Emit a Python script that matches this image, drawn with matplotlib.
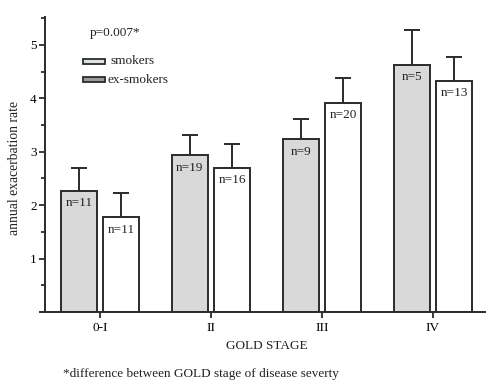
import matplotlib
matplotlib.use("Agg")
import matplotlib.pyplot as plt
from matplotlib.patches import Rectangle
from matplotlib.ticker import MultipleLocator
import numpy as np

plt.rcParams['font.family'] = ['Liberation Serif', 'DejaVu Serif']

stages = ["0-I", "II", "III", "IV"]
smokers = [2.27, 2.93, 3.23, 4.63]
smokers_err = [0.42, 0.39, 0.38, 0.64]
ex_smokers = [1.77, 2.70, 3.92, 4.33]
ex_smokers_err = [0.46, 0.45, 0.45, 0.44]
n_smokers = [11, 19, 9, 5]
n_ex_smokers = [11, 16, 20, 13]

W, H = 486, 380
fig = plt.figure(figsize=(W / 100, H / 100), dpi=100)
ax = fig.add_axes([40 / W, (H - 312) / H, 446 / W, 295 / H])

x = np.arange(len(stages))
width = 0.33
off = 0.19
edge = "#2b2b2b"
txt = "#222222"

ax.bar(x - off, smokers, width, color="#d9d9d9", edgecolor=edge, linewidth=1.4, zorder=2)
ax.bar(x + off, ex_smokers, width, color="white", edgecolor=edge, linewidth=1.4, zorder=2)
ax.errorbar(x - off, smokers, yerr=[np.zeros(4), smokers_err], fmt="none",
            ecolor=edge, elinewidth=1.4, capsize=6, capthick=1.4, zorder=1)
ax.errorbar(x + off, ex_smokers, yerr=[np.zeros(4), ex_smokers_err], fmt="none",
            ecolor=edge, elinewidth=1.4, capsize=6, capthick=1.4, zorder=1)

for xi, v, n in zip(x - off, smokers, n_smokers):
    ax.annotate(f"n={n}", (xi, v), xytext=(0, -9), textcoords="offset points",
                ha="center", va="center", fontsize=9.5, color=txt, zorder=3)
for xi, v, n in zip(x + off, ex_smokers, n_ex_smokers):
    ax.annotate(f"n={n}", (xi, v), xytext=(0, -9), textcoords="offset points",
                ha="center", va="center", fontsize=9.5, color=txt, zorder=3)

ax.set_xlim(-60 / 111, 3 + 53 / 111)
ax.set_ylim(0, 5.52)
ax.set_xticks(x)
ax.set_xticklabels(stages, fontsize=9.5)
ax.yaxis.set_major_locator(MultipleLocator(1))
ax.yaxis.set_minor_locator(MultipleLocator(0.5))
ax.set_yticks([1, 2, 3, 4, 5])
ax.tick_params(axis="y", which="major", length=4, width=1.3, color=edge, labelsize=9.5, pad=2)
ax.tick_params(axis="y", which="minor", length=3, width=1.3, color=edge)
ax.tick_params(axis="x", length=4, width=1.3, color=edge, labelsize=9.5, pad=3)

for s in ["top", "right"]:
    ax.spines[s].set_visible(False)
ax.spines["left"].set_position(("axes", 5 / 446))
ax.spines["left"].set_linewidth(1.4)
ax.spines["bottom"].set_linewidth(1.4)
ax.spines["left"].set_color(edge)
ax.spines["bottom"].set_color(edge)

fig.text(15 / W, 1 - 168 / H, "annual exacerbation rate", rotation=90,
         ha="center", va="center", fontsize=9.8, color=txt)
fig.text(267 / W, 1 - 346 / H, "GOLD STAGE", ha="center", va="center",
         fontsize=9.5, color=txt)
fig.text(63 / W, 1 - 374 / H, "*difference between GOLD stage of disease severty",
         ha="left", va="center", fontsize=9.5, color=txt)
fig.text(90 / W, 1 - 33 / H, "p=0.007*", ha="left", va="center",
         fontsize=9.5, color=txt)

# legend
fig.patches.append(Rectangle((83 / W, 1 - 64 / H), 22 / W, 5 / H, transform=fig.transFigure,
                             facecolor="#dde2e2", edgecolor=edge, linewidth=1.3))
fig.patches.append(Rectangle((83 / W, 1 - 82 / H), 22 / W, 5 / H, transform=fig.transFigure,
                             facecolor="#9a9a9a", edgecolor=edge, linewidth=1.3))
fig.text(110 / W, 1 - 61 / H, "smokers", ha="left", va="center", fontsize=9.5, color=txt)
fig.text(108 / W, 1 - 80 / H, "ex-smokers", ha="left", va="center", fontsize=9.5, color=txt)

fig.savefig("out.png", dpi=100)
